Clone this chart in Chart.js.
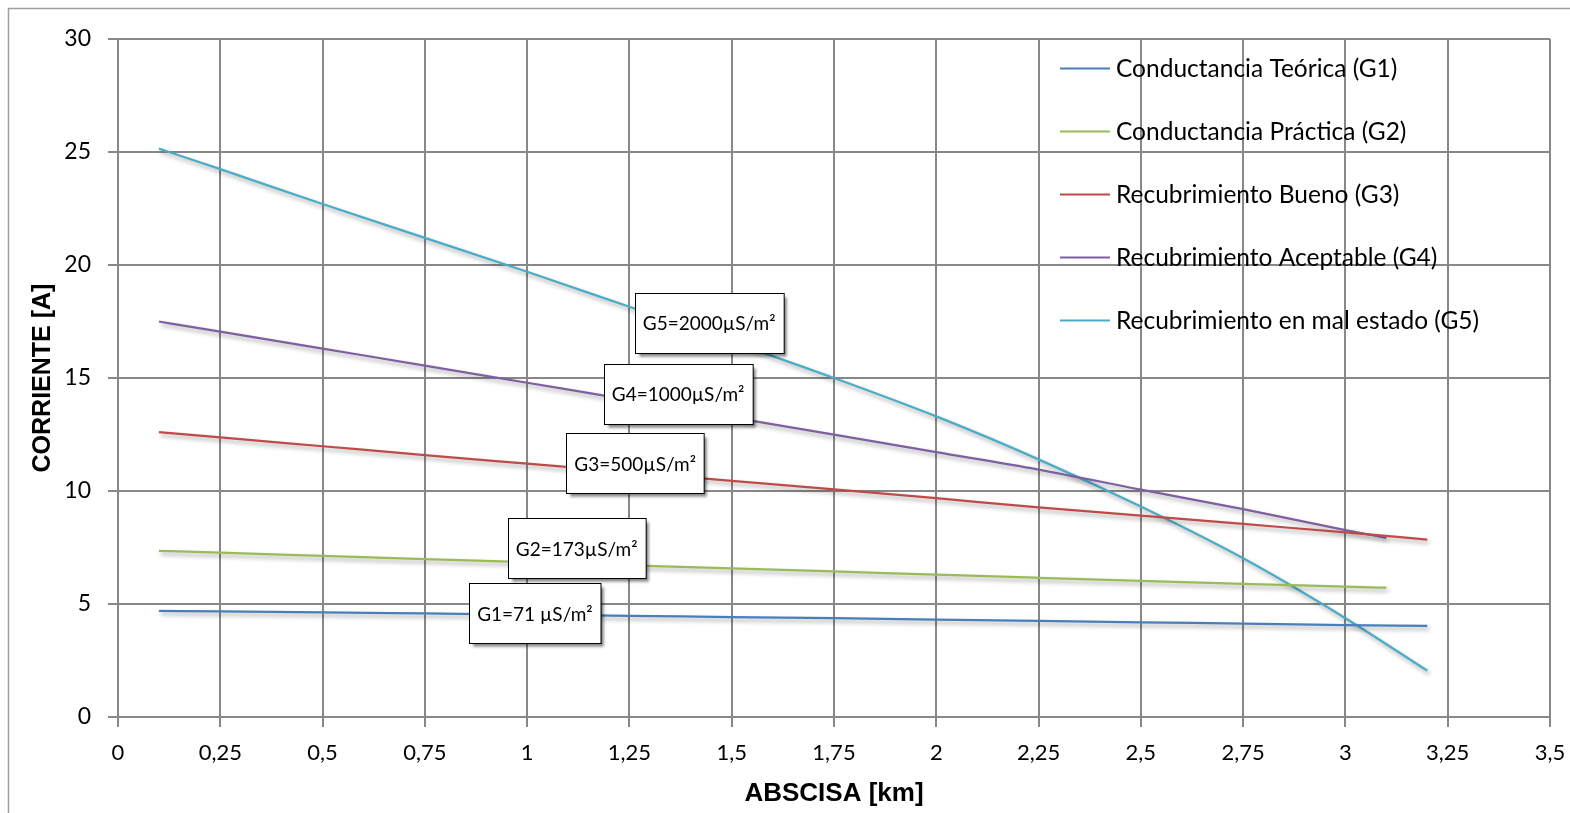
<!DOCTYPE html>
<html lang="es">
<head>
  <meta charset="UTF-8" />
  <title>Corriente vs Abscisa</title>
  <script src="https://cdn.jsdelivr.net/npm/chart.js"></script>
  <style>
    body { margin: 0; background: #fff; }
    #wrap { width: 1570px; height: 813px; position: relative; }
  </style>
</head>
<body>
  <div id="wrap"><canvas id="grafica"></canvas></div>

  <script>
    // Datos
    const abscisaLarga = [0.1, 0.25, 0.5, 0.75, 1, 1.25, 1.5, 1.75, 2, 2.25, 2.5, 2.75, 3, 3.2];
    const abscisaCorta = [0.1, 0.25, 0.5, 0.75, 1, 1.25, 1.5, 1.75, 2, 2.25, 2.5, 2.75, 3, 3.1];

    const g1 = [4.70, 4.67, 4.63, 4.58, 4.53, 4.48, 4.42, 4.37, 4.31, 4.25, 4.19, 4.13, 4.07, 4.03];
    const g2 = [7.35, 7.27, 7.13, 6.99, 6.85, 6.71, 6.58, 6.44, 6.30, 6.16, 6.02, 5.89, 5.77, 5.72];
    const g3 = [12.60, 12.37, 11.98, 11.59, 11.21, 10.83, 10.45, 10.07, 9.68, 9.28, 8.91, 8.54, 8.17, 7.85];
    const g4 = [17.50, 17.05, 16.30, 15.55, 14.79, 14.03, 13.26, 12.49, 11.72, 10.95, 10.06, 9.20, 8.27, 7.93];
    const g5 = [25.15, 24.24, 22.70, 21.20, 19.70, 18.15, 16.60, 15.00, 13.30, 11.40, 9.31, 7.02, 4.37, 2.05];

    const nombres = [
      'Conductancia Teórica (G1)',
      'Conductancia Práctica (G2)',
      'Recubrimiento Bueno (G3)',
      'Recubrimiento Aceptable (G4)',
      'Recubrimiento en mal estado (G5)'
    ];
    const colores = ['#4a7ebb', '#9bbb59', '#be4b48', '#7d60a0', '#4bacc6'];

    // etiquetas sobre las curvas (centro en unidades de los ejes)
    const etiquetas = ['G1=71 µS/m²', 'G2=173µS/m²', 'G3=500µS/m²', 'G4=1000µS/m²', 'G5=2000µS/m²'];
    const etiquetaX = [1.019, 1.121, 1.264, 1.369, 1.445];
    const etiquetaY = [4.58, 7.46, 11.22, 14.29, 17.43];

    const xTicks = [0, 0.25, 0.5, 0.75, 1, 1.25, 1.5, 1.75, 2, 2.25, 2.5, 2.75, 3, 3.25, 3.5];

    const puntos = (xs, ys) => xs.map((x, i) => ({ x: x, y: ys[i] }));
    const series = [
      puntos(abscisaLarga, g1),
      puntos(abscisaCorta, g2),
      puntos(abscisaLarga, g3),
      puntos(abscisaCorta, g4),
      puntos(abscisaLarga, g5)
    ];

    const gris = '#888888';
    const fuenteCalibri = 'Lato, "Open Sans", sans-serif';

    // sombra de las lineas, como en Excel
    const sombra = {
      id: 'sombra',
      beforeDatasetDraw(chart) {
        const c = chart.ctx;
        c.save();
        c.shadowColor = 'rgba(0,0,0,0.35)';
        c.shadowBlur = 4;
        c.shadowOffsetX = 2;
        c.shadowOffsetY = 3;
      },
      afterDatasetDraw(chart) {
        chart.ctx.restore();
      }
    };

    const marco = {
      id: 'marco',
      beforeDraw(chart) {
        const c = chart.ctx;
        c.save();
        c.strokeStyle = '#a0a0a0';
        c.lineWidth = 1.5;
        c.strokeRect(8.5, 8.5, 1700, 1000);
        c.restore();
      }
    };

    const cuadros = {
      id: 'cuadros',
      afterDatasetsDraw(chart) {
        const c = chart.ctx;
        const sx = chart.scales.x, sy = chart.scales.y;
        c.save();
        c.font = '19px ' + fuenteCalibri;
        c.textAlign = 'center';
        c.textBaseline = 'middle';
        etiquetas.forEach((t, i) => {
          const cx = sx.getPixelForValue(etiquetaX[i]);
          const cy = sy.getPixelForValue(etiquetaY[i]);
          const w = c.measureText(t).width + 16;
          const h = 60;
          const x0 = Math.round(cx - w / 2) + 0.5, y0 = Math.round(cy - h / 2) + 0.5;
          c.save();
          c.shadowColor = 'rgba(0,0,0,0.55)';
          c.shadowBlur = 3;
          c.shadowOffsetX = 3;
          c.shadowOffsetY = 3;
          c.fillStyle = '#fff';
          c.fillRect(x0, y0, w, h);
          c.restore();
          c.strokeStyle = '#000';
          c.lineWidth = 1;
          c.strokeRect(x0, y0, w, h);
          c.fillStyle = '#000';
          c.fillText(t, cx, cy + 1);
        });
        c.restore();
      }
    };

    const leyenda = {
      id: 'leyenda',
      afterDraw(chart) {
        const c = chart.ctx;
        const a = chart.chartArea;
        const x0 = a.right - 490;
        c.save();
        c.font = '24.5px ' + fuenteCalibri;
        c.textBaseline = 'middle';
        c.textAlign = 'left';
        nombres.forEach((n, i) => {
          const y = a.top + 29 + i * 63;
          c.strokeStyle = colores[i];
          c.lineWidth = 2;
          c.beginPath();
          c.moveTo(x0, y + 0.5);
          c.lineTo(x0 + 50, y + 0.5);
          c.stroke();
          c.fillStyle = '#000';
          c.fillText(n, x0 + 56, y + 1);
        });
        c.restore();
      }
    };

    new Chart(document.getElementById('grafica'), {
      type: 'line',
      data: {
        datasets: series.map((s, i) => ({
          label: nombres[i],
          data: s,
          borderColor: colores[i],
          backgroundColor: colores[i],
          borderWidth: 2.25,
          pointRadius: 0,
          fill: false,
          cubicInterpolationMode: 'monotone'
        }))
      },
      options: {
        responsive: true,
        maintainAspectRatio: false,
        animation: false,
        layout: { padding: { top: 39, right: 20, left: 0, bottom: 0 } },
        plugins: {
          legend: { display: false },
          tooltip: { enabled: false }
        },
        scales: {
          x: {
            type: 'linear',
            min: 0,
            max: 3.5,
            afterBuildTicks: (s) => { s.ticks = xTicks.map(v => ({ value: v })); },
            afterFit: (s) => { s.height = 96; s.paddingLeft = 0; s.paddingRight = 0; },
            ticks: {
              color: '#000',
              padding: 13,
              maxRotation: 0,
              font: { family: fuenteCalibri, size: 22 },
              callback: (v) => String(v).replace('.', ',')
            },
            grid: { color: gris, lineWidth: 2, tickLength: 10, tickColor: gris },
            border: { color: gris, width: 2 },
            title: {
              display: true,
              text: 'ABSCISA [km]',
              color: '#000',
              font: { family: '"Liberation Sans", Arial, sans-serif', size: 26, weight: 'bold' },
              padding: { top: 0, bottom: 4 }
            }
          },
          y: {
            min: 0,
            max: 30,
            afterFit: (s) => { s.width = 118; },
            ticks: {
              stepSize: 5,
              color: '#000',
              padding: 17,
              font: { family: fuenteCalibri, size: 23 }
            },
            grid: { color: gris, lineWidth: 2, tickLength: 10, tickColor: gris },
            border: { color: gris, width: 2 },
            title: {
              display: true,
              text: 'CORRIENTE [A]',
              color: '#000',
              font: { family: '"Liberation Sans", Arial, sans-serif', size: 25, weight: 'bold' },
              padding: { top: 28, bottom: 0 }
            }
          }
        }
      },
      plugins: [marco, sombra, cuadros, leyenda]
    });
  </script>
</body>
</html>
